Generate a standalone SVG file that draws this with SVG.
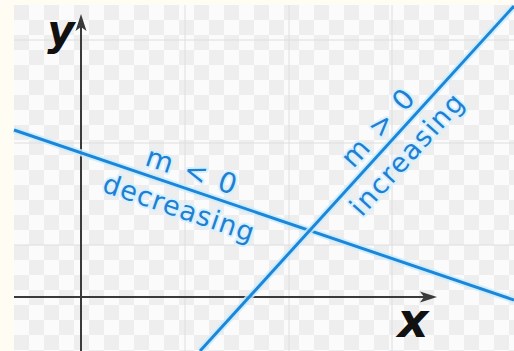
<svg xmlns="http://www.w3.org/2000/svg" width="514" height="351" viewBox="0 0 514 351">
<defs>
<pattern id="checker" x="14" y="5" width="30" height="30" patternUnits="userSpaceOnUse">
<rect width="30" height="30" fill="#fbfbfb"/>
<rect width="15" height="15" fill="#eeeeee"/>
<rect x="15" y="15" width="15" height="15" fill="#eeeeee"/>
</pattern>
<style>
.grid{stroke:#dedede;stroke-width:1;fill:none}
.axis{stroke:#3a3a3a;stroke-width:2;fill:none}
.halo{stroke:#c9ecff;stroke-width:7;fill:none;opacity:0.8}
.line{stroke:#1c86d9;stroke-width:3;fill:none}
.lbl{font-family:"DejaVu Sans","Noto Sans",sans-serif;fill:#1f80d2;stroke:#d8f1ff;stroke-width:4;paint-order:stroke;stroke-linejoin:round;text-anchor:middle}
.axlbl{font-family:"DejaVu Sans",sans-serif;font-weight:bold;font-style:italic;fill:#111;text-anchor:middle}
</style>
</defs>
<rect width="514" height="351" fill="#fffdf3"/>
<rect x="14" y="5" width="500" height="346" fill="url(#checker)"/>
<g id="grid">
<line class="grid" x1="185" y1="5" x2="185" y2="351"/>
<line class="grid" x1="289" y1="5" x2="289" y2="351"/>
<line class="grid" x1="392" y1="5" x2="392" y2="351"/>
<line class="grid" x1="14" y1="40" x2="514" y2="40"/>
<line class="grid" x1="14" y1="143" x2="514" y2="143"/>
<line class="grid" x1="14" y1="245" x2="514" y2="245"/>
</g>
<g id="connectors">
<g id="y-axis">
<line class="axis" x1="81" y1="351" x2="81" y2="24"/>
<path d="M81,14 L75.5,31 L81,27 L86.5,31 Z" fill="#3a3a3a"/>
</g>
<g id="x-axis">
<line class="axis" x1="14" y1="297" x2="428" y2="297"/>
<path d="M437,297 L420,291.5 L424,297 L420,302.5 Z" fill="#3a3a3a"/>
</g>
<g id="line-decreasing">
<line class="halo" x1="14" y1="130" x2="514" y2="300"/>
<line class="line" x1="14" y1="130" x2="514" y2="300"/>
</g>
<g id="line-increasing">
<line class="halo" x1="200" y1="351" x2="514" y2="6"/>
<line class="line" x1="200" y1="351" x2="514" y2="6"/>
</g>
</g>
<g id="label-y"><text class="axlbl" x="61" y="45" font-size="42">y</text></g>
<g id="label-x"><text class="axlbl" x="413" y="337" font-size="48">x</text></g>
<g id="label-decreasing" transform="translate(185.4,188.3) rotate(18.8)">
<text class="lbl" x="0" y="-9" font-size="28" textLength="94" lengthAdjust="spacing">m &lt; 0</text>
<text class="lbl" x="0" y="30" font-size="27" textLength="158" lengthAdjust="spacing">decreasing</text>
</g>
<g id="label-increasing" transform="translate(391.5,140.5) rotate(-47.7)">
<text class="lbl" x="0" y="-9" font-size="28" textLength="94" lengthAdjust="spacing">m &gt; 0</text>
<text class="lbl" x="0" y="30" font-size="27" textLength="154" lengthAdjust="spacing">increasing</text>
</g>
</svg>
